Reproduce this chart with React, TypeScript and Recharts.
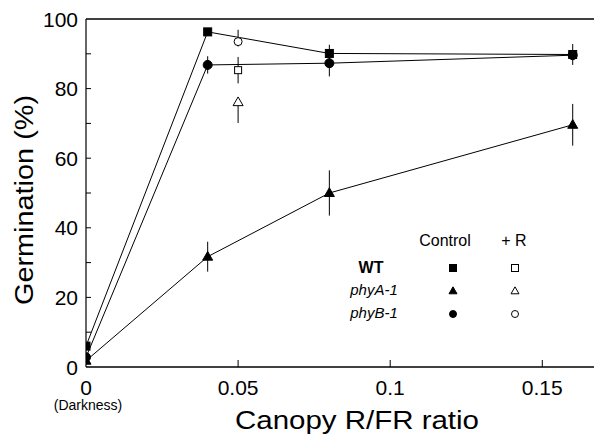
import React from "react";
import {
  ComposedChart,
  Line,
  Scatter,
  XAxis,
  YAxis,
  ErrorBar,
  ReferenceLine,
} from "recharts";

// canopy R/FR ratio (0 = darkness)
const ratios = [0, 0.04, 0.08, 0.16];

// control germination (%) and error bars
const wtControl = [6, 96.3, 90.1, 89.8];
const wtErr = [0, 0.5, 2.5, 3];
const phyAControl = [1.8, 31.7, 50, 69.6];
const phyAErr = [0, 4.3, 6.5, 6];
const phyBControl = [2.8, 86.8, 87.3, 89.6];
const phyBErr = [0, 2.5, 3.8, 0];

// + R treatment, single ratio
const redRatio = 0.05;
const wtRed = 85.3;
const wtRedErr = [3.8, 3.8];
const phyARed = 76.1;
const phyARedErr = [6, 0];
const phyBRed = 93.5;
const phyBRedErr = [1.4, 3.4];

const xTicks = [0, 0.05, 0.1, 0.15];
const xTickLabels = ["0", "0.05", "0.1", "0.15"];
const yTicks = [0, 10, 20, 30, 40, 50, 60, 70, 80, 90, 100];

const FONT = "'Liberation Sans', Arial, sans-serif";

const toSeries = (vals: number[], errs: number[]) =>
  ratios.map((x, i) => ({ x, y: vals[i], err: errs[i] }));

const wtData = toSeries(wtControl, wtErr);
const phyAData = toSeries(phyAControl, phyAErr);
const phyBData = toSeries(phyBControl, phyBErr);

const wtRedData = [{ x: redRatio, y: wtRed, err: wtRedErr }];
const phyARedData = [{ x: redRatio, y: phyARed, err: phyARedErr }];
const phyBRedData = [{ x: redRatio, y: phyBRed, err: phyBRedErr }];

// marker shapes
const Square = ({ cx, cy, s = 8, open = false }: any) => (
  <rect
    x={cx - s / 2}
    y={cy - s / 2}
    width={s}
    height={s}
    fill={open ? "#fff" : "#000"}
    stroke="#000"
    strokeWidth={1}
  />
);
const Triangle = ({ cx, cy, s = 10, open = false }: any) => {
  const h = s * 0.87;
  return (
    <polygon
      points={`${cx},${cy - h * 0.6} ${cx - s / 2},${cy + h * 0.4} ${cx + s / 2},${cy + h * 0.4}`}
      fill={open ? "#fff" : "#000"}
      stroke="#000"
      strokeWidth={1}
    />
  );
};
const Circle = ({ cx, cy, r = 4.5, open = false }: any) => (
  <circle cx={cx} cy={cy} r={r} fill={open ? "#fff" : "#000"} stroke="#000" strokeWidth={1} />
);

const Y_MARGIN = 8;
const X_MARGIN = 10;

const YTick = (props: any) => {
  const { x, y, payload } = props;
  const axisX = x + Y_MARGIN;
  const major = payload.value % 20 === 0;
  return (
    <g>
      {payload.value !== 0 && payload.value !== 100 && (
        <line x1={axisX} x2={axisX + 5} y1={y} y2={y} stroke="#000" strokeWidth={1} />
      )}
      {major && (
        <text x={x} y={y + 7.5} textAnchor="end" fontSize={21} fontFamily={FONT} fill="#000">
          {payload.value}
        </text>
      )}
    </g>
  );
};

const XTick = (props: any) => {
  const { x, y, payload, index } = props;
  const axisY = y - X_MARGIN;
  const label = xTickLabels[xTicks.indexOf(payload.value)] ?? String(payload.value);
  return (
    <g>
      {payload.value !== 0 && (
        <line x1={x} x2={x} y1={axisY} y2={axisY - 7} stroke="#000" strokeWidth={1} />
      )}
      <text x={x} y={y + 18} textAnchor="middle" fontSize={21} fontFamily={FONT} fill="#000">
        {label}
      </text>
      {index === 0 && (
        <text x={x + 2} y={y + 33} textAnchor="middle" fontSize={14} fontFamily={FONT} fill="#000">
          (Darkness)
        </text>
      )}
    </g>
  );
};

export default function App() {
  return (
    <div style={{ position: "absolute", left: 0, top: 0, width: 595, height: 435, background: "#fff" }}>
      <ComposedChart
        width={595}
        height={435}
        margin={{ top: 19, right: 1, left: 26, bottom: 38 }}
      >
        <XAxis
          type="number"
          dataKey="x"
          domain={[0, 0.167]}
          ticks={xTicks}
          tick={<XTick />}
          tickSize={0}
          tickMargin={X_MARGIN}
          axisLine={{ stroke: "#000", strokeWidth: 1.5 }}
          tickLine={false}
          height={30}
          allowDataOverflow
        />
        <YAxis
          type="number"
          domain={[0, 100]}
          ticks={yTicks}
          tick={<YTick />}
          tickSize={0}
          tickMargin={Y_MARGIN}
          axisLine={{ stroke: "#000", strokeWidth: 1.2 }}
          tickLine={false}
          width={60}
          interval={0}
        />
        <ReferenceLine y={100} stroke="#000" strokeWidth={1.5} />

        <Line
          data={wtData}
          dataKey="y"
          stroke="#000"
          strokeWidth={1}
          isAnimationActive={false}
          dot={(p: any) => <Square key={p.index} cx={p.cx} cy={p.cy} />}
        >
          <ErrorBar dataKey="err" width={0} stroke="#000" strokeWidth={1} direction="y" />
        </Line>
        <Line
          data={phyBData}
          dataKey="y"
          stroke="#000"
          strokeWidth={1}
          isAnimationActive={false}
          dot={(p: any) => <Circle key={p.index} cx={p.cx} cy={p.cy} />}
        >
          <ErrorBar dataKey="err" width={0} stroke="#000" strokeWidth={1} direction="y" />
        </Line>
        <Line
          data={phyAData}
          dataKey="y"
          stroke="#000"
          strokeWidth={1}
          isAnimationActive={false}
          dot={(p: any) => <Triangle key={p.index} cx={p.cx} cy={p.cy} />}
        >
          <ErrorBar dataKey="err" width={0} stroke="#000" strokeWidth={1} direction="y" />
        </Line>

        <Scatter
          data={wtRedData}
          dataKey="y"
          isAnimationActive={false}
          shape={(p: any) => <Square cx={p.cx} cy={p.cy} s={7} open />}
        >
          <ErrorBar dataKey="err" width={0} stroke="#000" strokeWidth={1} direction="y" />
        </Scatter>
        <Scatter
          data={phyARedData}
          dataKey="y"
          isAnimationActive={false}
          shape={(p: any) => <Triangle cx={p.cx} cy={p.cy} open />}
        >
          <ErrorBar dataKey="err" width={0} stroke="#000" strokeWidth={1} direction="y" />
        </Scatter>
        <Scatter
          data={phyBRedData}
          dataKey="y"
          isAnimationActive={false}
          shape={(p: any) => <Circle cx={p.cx} cy={p.cy} r={4} open />}
        >
          <ErrorBar dataKey="err" width={0} stroke="#000" strokeWidth={1} direction="y" />
        </Scatter>
      </ComposedChart>

      {/* axis titles and the symbol key */}
      <svg
        width={595}
        height={435}
        style={{ position: "absolute", left: 0, top: 0, pointerEvents: "none" }}
        fontFamily={FONT}
      >
        <text
          transform="translate(33,200) rotate(-90)"
          textAnchor="middle"
          fontSize={26}
          textLength={210}
          lengthAdjust="spacingAndGlyphs"
        >
          Germination (%)
        </text>
        <text
          x={357}
          y={429}
          textAnchor="middle"
          fontSize={25}
          textLength={244}
          lengthAdjust="spacingAndGlyphs"
        >
          Canopy R/FR ratio
        </text>

        <text x={445} y={246} textAnchor="middle" fontSize={16}>Control</text>
        <text x={514} y={246} textAnchor="middle" fontSize={16}>+ R</text>
        <text x={371} y={273} textAnchor="middle" fontSize={16} fontWeight="bold">WT</text>
        <text x={374} y={295} textAnchor="middle" fontSize={15} fontStyle="italic">phyA-1</text>
        <text x={374} y={318} textAnchor="middle" fontSize={15} fontStyle="italic">phyB-1</text>

        <Square cx={453} cy={268} s={7} />
        <Square cx={515} cy={268} s={7} open />
        <Triangle cx={453} cy={291} s={8} />
        <Triangle cx={515} cy={291} s={8} open />
        <Circle cx={453} cy={314} r={3.5} />
        <Circle cx={515} cy={314} r={3.5} open />
      </svg>
    </div>
  );
}
